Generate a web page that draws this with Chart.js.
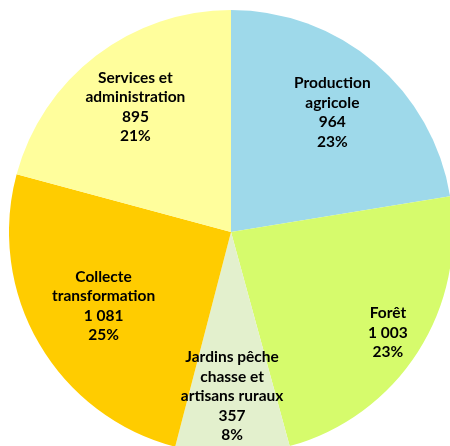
<!DOCTYPE html>
<html>
<head>
<meta charset="utf-8">
<script src="https://cdn.jsdelivr.net/npm/chart.js@4.4.1/dist/chart.umd.min.js"></script>
<style>
  html, body { margin: 0; padding: 0; background: #ffffff; overflow: hidden; width: 450px; height: 446px; }
  #wrap { position: absolute; left: 9px; top: 10px; width: 444px; height: 444px; }
</style>
</head>
<body>
<div id="wrap"><canvas id="c"></canvas></div>
<script>
// ---- data ----
const categories = [
  ["Production", "agricole"],
  ["Forêt"],
  ["Jardins pêche", "chasse et", "artisans ruraux"],
  ["Collecte", "transformation"],
  ["Services et", "administration"]
];
const values = [964, 1003, 357, 1081, 895];
const percents = [23, 23, 8, 25, 21];

// ---- style ----
const colors = ["#9ED9EA", "#D6FB6C", "#E3F0CD", "#FFCC00", "#FFFE9C"];
const labelRadius = [0.705, 0.84, 0.74, 0.664, 0.708];
const labelFont = "bold 15.5px Lato";
const lineHeight = 19.5;

function fmt(v) {
  return String(v).replace(/\B(?=(\d{3})+(?!\d))/g, " ");
}

const labelPlugin = {
  id: "sliceLabels",
  afterDatasetsDraw(chart) {
    const ctx = chart.ctx;
    const meta = chart.getDatasetMeta(0);
    ctx.save();
    ctx.font = labelFont;
    ctx.fillStyle = "#000000";
    ctx.textAlign = "center";
    ctx.textBaseline = "middle";
    meta.data.forEach((arc, i) => {
      const p = arc.getProps(["x", "y", "startAngle", "endAngle", "outerRadius"], true);
      const mid = (p.startAngle + p.endAngle) / 2;
      const r = p.outerRadius * labelRadius[i];
      const cx = p.x + Math.cos(mid) * r;
      const cy = p.y + Math.sin(mid) * r;
      const lines = [...chart.data.labels[i], fmt(chart.data.datasets[0].data[i]), percents[i] + "%"];
      const top = cy - (lines.length - 1) * lineHeight / 2;
      lines.forEach((t, k) => ctx.fillText(t, cx, top + k * lineHeight));
    });
    ctx.restore();
  }
};

new Chart(document.getElementById("c"), {
  type: "pie",
  data: {
    labels: categories,
    datasets: [{
      data: values,
      backgroundColor: colors,
      borderWidth: 0,
      hoverOffset: 0,
      offset: 0
    }]
  },
  options: {
    responsive: true,
    maintainAspectRatio: false,
    animation: false,
    layout: { padding: 0 },
    rotation: 0,
    plugins: {
      legend: { display: false },
      tooltip: { enabled: false },
      title: { display: false }
    },
    events: []
  },
  plugins: [labelPlugin]
});
</script>
</body>
</html>
